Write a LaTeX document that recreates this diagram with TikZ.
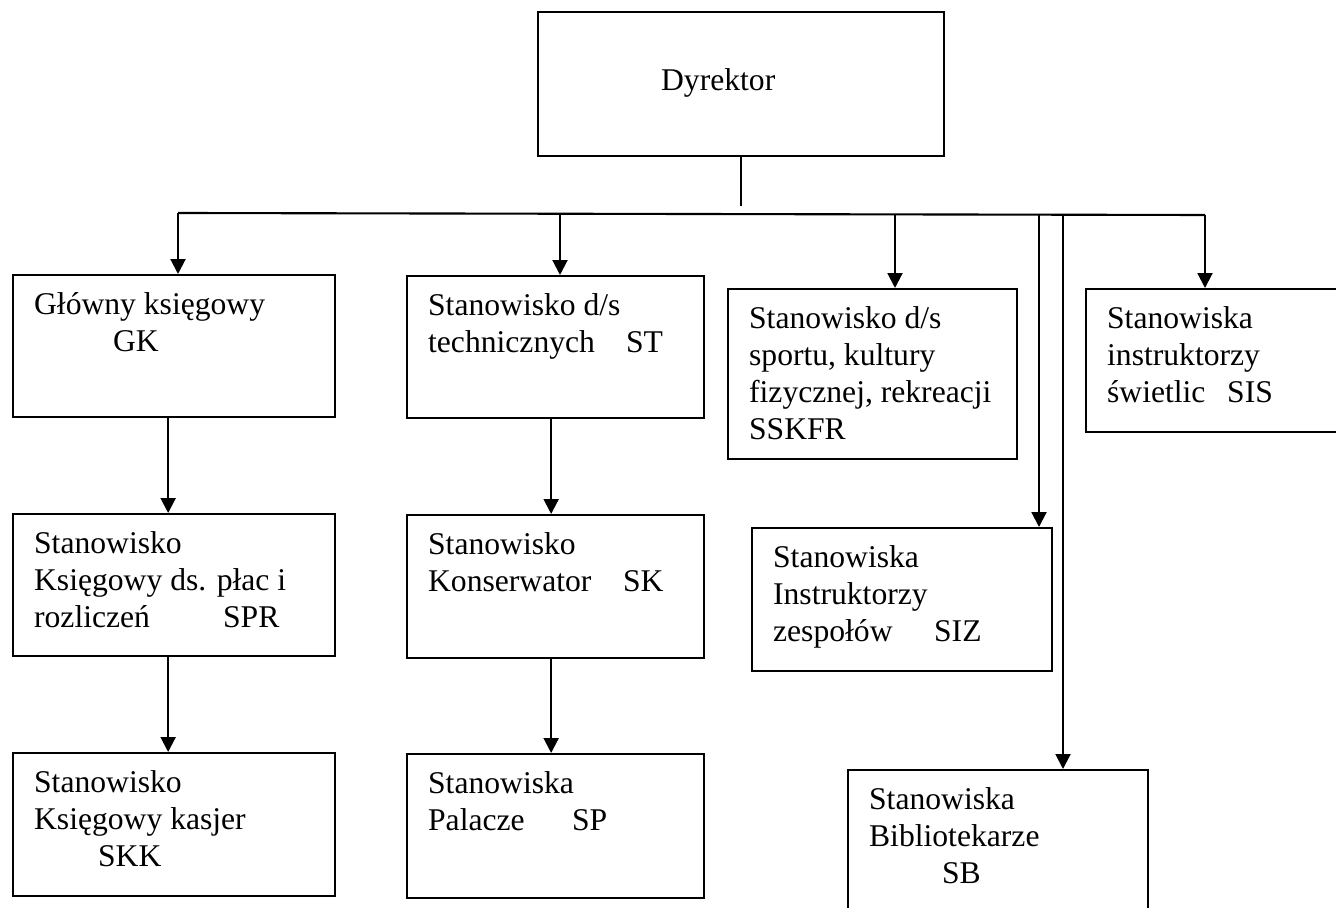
\documentclass[tikz,border=0pt]{standalone}
\usepackage{fontspec}
\setmainfont{Liberation Serif}
\usetikzlibrary{arrows.meta}

\newlength\pxu
\setlength\pxu{0.02cm}
\newcommand{\unitbox}[3]{\parbox[t][#2\pxu][t]{#1\pxu}{\leftskip=21\pxu\rule{0pt}{39\pxu}#3}}
\newcommand{\tabto}[2]{\makebox[#1\pxu][l]{#2}}

\begin{document}
\begin{tikzpicture}[x=0.02cm, y=-0.02cm,
    unit/.style={draw, line width=1.3pt, anchor=north west, inner sep=0pt,
      font=\fontsize{18pt}{21.05pt}\selectfont},
    link/.style={line width=1.2pt, -{Triangle[length=8.5pt, width=8.5pt]}},
    bus/.style={line width=1.2pt}]
    \useasboundingbox (0,0) rectangle (1336,908);
    \clip (0,0) rectangle (1336,908);

    % Dyrektor
    \node[unit] (dyr) at (537,11) {\parbox[t][144\pxu][t]{406\pxu}{\leftskip=123\pxu\rule{0pt}{78\pxu}Dyrektor}};

    % first row
    \node[unit] (gk) at (12,274) {\unitbox{322}{142}{Główny księgowy\\\hspace*{79\pxu}GK}};
    \node[unit] (st) at (406,275) {\unitbox{297}{142}{Stanowisko d/s\\\tabto{198}{technicznych}ST}};
    \node[unit] (sskfr) at (727,288) {\unitbox{289}{170}{Stanowisko d/s\\sportu, kultury\\\mbox{fizycznej, rekreacji}\\SSKFR}};
    \node[unit] (sis) at (1085,288) {\unitbox{300}{143}{Stanowiska\\instruktorzy\\\tabto{120}{świetlic}SIS}};

    % second row
    \node[unit] (spr) at (12,513) {\unitbox{322}{142}{Stanowisko\\Księgowy ds. płac i\\\tabto{189}{rozliczeń}SPR}};
    \node[unit] (sk) at (406,514) {\unitbox{297}{143}{Stanowisko\\\tabto{195}{Konserwator}SK}};
    \node[unit] (siz) at (751,527) {\unitbox{300}{143}{Stanowiska\\Instruktorzy\\\tabto{161}{zespołów}SIZ}};

    % third row
    \node[unit] (skk) at (12,752) {\unitbox{322}{143}{Stanowisko\\Księgowy kasjer\\\hspace*{64\pxu}SKK}};
    \node[unit] (sp) at (406,753) {\unitbox{297}{144}{Stanowiska\\\tabto{144}{Palacze}SP}};
    \node[unit] (sb) at (847,769) {\unitbox{300}{160}{Stanowiska\\Bibliotekarze\\\hspace*{73\pxu}SB}};

    % bus
    \coordinate (stub) at ([yshift=-49\pxu]dyr.south);
    \draw[bus] (dyr.south) -- (stub);
    \coordinate (b1) at (178,213);
    \coordinate (b2) at (560,213);
    \coordinate (b3) at (895,214);
    \coordinate (b4) at (1039,214);
    \coordinate (b5) at (1063,214);
    \coordinate (b6) at (1205,215);
    \draw[bus] (b1) -- (b6);
    \foreach \bp/\n in {b1/gk, b2/st, b3/sskfr, b4/siz, b5/sb, b6/sis}
      \draw[link] (\bp) -- (\bp |- \n.north);

    % columns
    \draw[link] ([xshift=-6\pxu]gk.south) -- ([xshift=-6\pxu]spr.north);
    \draw[link] ([xshift=-6\pxu]spr.south) -- ([xshift=-6\pxu]skk.north);
    \draw[link] ([xshift=-4.5\pxu]st.south) -- ([xshift=-4.5\pxu]sk.north);
    \draw[link] ([xshift=-4.5\pxu]sk.south) -- ([xshift=-4.5\pxu]sp.north);
\end{tikzpicture}
\end{document}
